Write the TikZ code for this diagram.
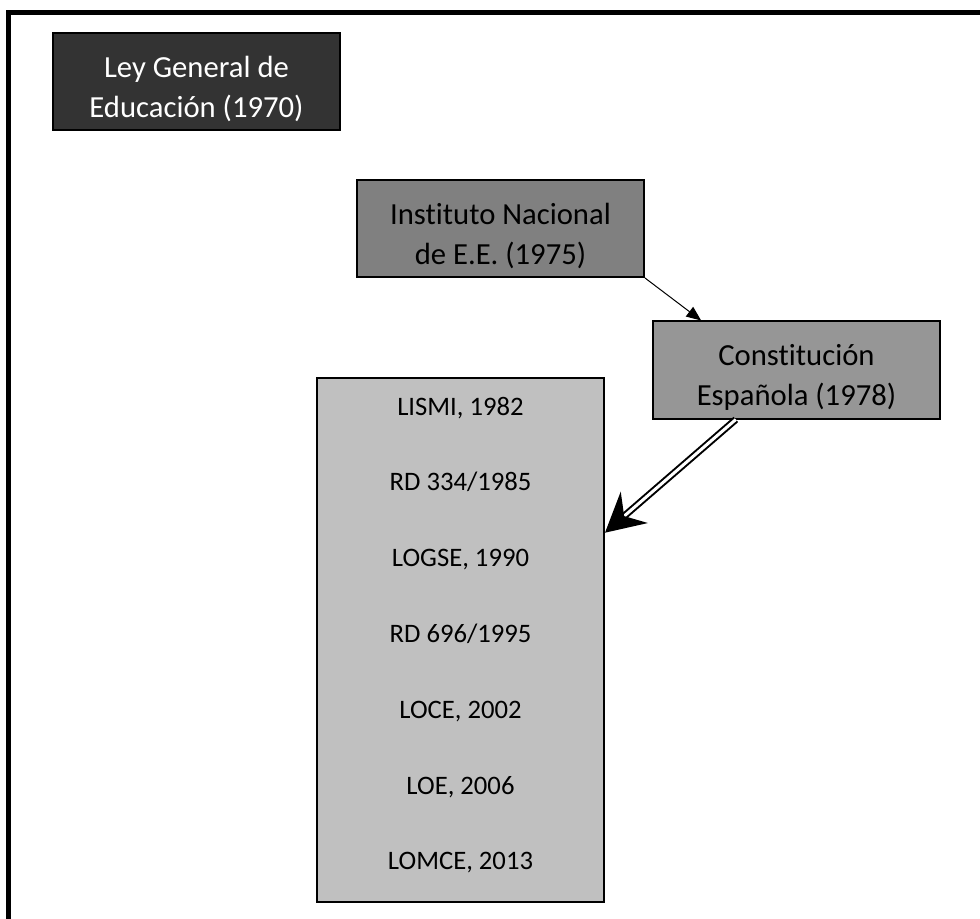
\documentclass[tikz,border=0pt]{standalone}
\usepackage{fontspec}
\setmainfont{Carlito}[Ligatures=NoCommon]
\usetikzlibrary{calc,arrows.meta}

\definecolor{oscuro}{HTML}{333333}
\definecolor{medio}{HTML}{808080}
\definecolor{claro}{HTML}{969696}
\definecolor{fondo}{HTML}{C0C0C0}

\tikzset{
	caja/.style={draw=black, line width=1.5pt, minimum width=215.25pt, minimum height=72.75pt, inner sep=0pt},
	titulo/.style={align=center, inner sep=0pt, font=\fontsize{23}{30}\selectfont},
	ley/.style={anchor=base, font=\fontsize{20}{20}\selectfont},
}

\begin{document}
\begin{tikzpicture}[x=0.75pt, y=-0.75pt]

	% ---- parameters

	\def\paso{75.8}
	\def\primera{415}
	\def\bajada{7}

	% ---- bounding box

	\useasboundingbox (0,0) rectangle (980,919);

	% ---- frame

	\draw[line width=3.75pt] (8.5,919) -- (8.5,12.5) -- (980,12.5);

	% ---- boxes

	\node[caja, fill=oscuro] (lge) at (196.5,82) {};
	\node[caja, fill=medio] (ine) at (500.5,228.5) {};
	\node[caja, fill=claro] (ce) at (796.5,370) {};

	\node[draw, line width=1.5pt, fill=fondo, minimum width=215.25pt, minimum height=393pt, inner sep=0pt]
		(leyes) at (460.5,640) {};

	% ---- box titles

	\node[titulo, text=white] (lge-txt) at ($(lge)+(0,\bajada)$) {Ley General de\\Educación (1970)};
	\node[titulo] (ine-txt) at ($(ine)+(0,\bajada)$) {Instituto Nacional\\de E.E. (1975)};
	\node[titulo] (ce-txt) at ($(ce)+(0,\bajada)$) {Constitución\\Española (1978)};

	% ---- laws

	\foreach \txt [count=\i] in {{LISMI, 1982},{RD 334/1985},{LOGSE, 1990},{RD 696/1995},
		{LOCE, 2002},{LOE, 2006},{LOMCE, 2013}} {
		\node[ley] (L\i) at (460.5,{\primera+(\i-1)*\paso}) {\txt};
	}

	% ---- arrows

	\draw[line width=0.75pt, -{Triangle[length=11pt, width=9pt]}]
		(ine.south east) -- ($(ce.north west)!0.17!(ce.north east)$);

	\draw[double, double distance=2.25pt, line width=1.5pt, -{Stealth[length=29pt, width=31pt, inset=10pt]}]
		($(ce.south west)!0.29!(ce.south east)$) -- ($(leyes.north east)!0.296!(leyes.south east)$);

\end{tikzpicture}
\end{document}
